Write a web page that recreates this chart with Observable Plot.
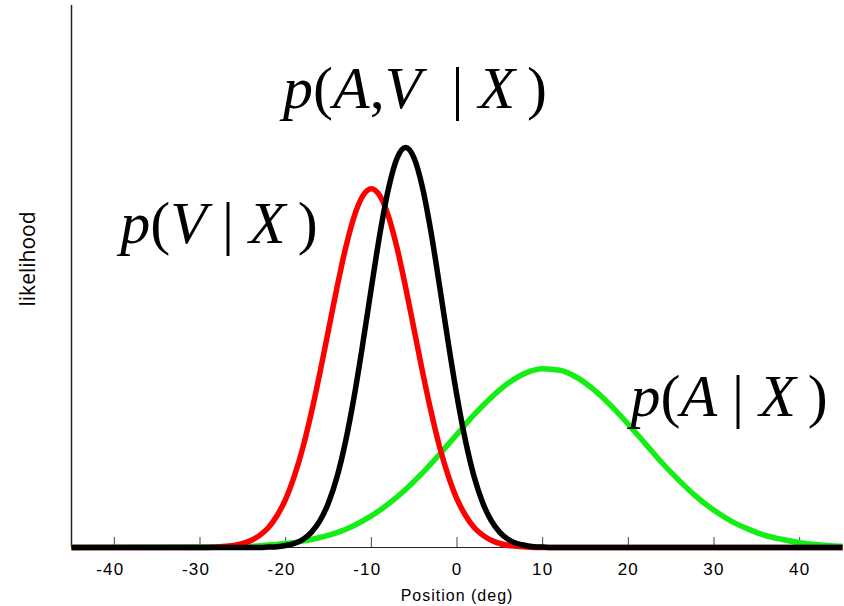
<!DOCTYPE html>
<html>
<head>
<meta charset="utf-8">
<script src="https://cdn.jsdelivr.net/npm/d3@7"></script>
<script src="https://cdn.jsdelivr.net/npm/@observablehq/plot@0.6"></script>
<style>
  html, body { margin: 0; padding: 0; background: #fff; }
  #chart svg { display: block; }
  svg [aria-label="x-axis tick label"], svg [aria-label="x-axis tick label"] text,
  svg [aria-label="x-axis"], svg [aria-label="x-axis"] text {
    font-size: 17px; font-family: 'Liberation Sans', Arial, sans-serif; letter-spacing: 1.2px;
  }
</style>
</head>
<body>
<div id="chart"></div>
<script>
// ---------- data ----------
const xTicks = [-40, -30, -20, -10, 0, 10, 20, 30, 40];
const xDomain = [-45, 45];
const yTop = 1.355;

// p(A | X)  (green)
const greenX = [-45, -26, -24, -22, -20, -18, -16, -14, -12, -10, -8, -6, -4, -2, 0, 2, 4, 6, 8, 10,
  12, 14, 16, 18, 20, 22, 24, 26, 28, 30, 32, 34, 36, 38, 40, 42, 44, 45];
const greenY = [0, 0.002, 0.003, 0.006, 0.010, 0.016, 0.025, 0.037, 0.055, 0.079, 0.109, 0.145, 0.187, 0.234, 0.283, 0.332, 0.375, 0.411, 0.436, 0.447,
  0.443, 0.425, 0.394, 0.354, 0.308, 0.259, 0.210, 0.166, 0.126, 0.093, 0.066, 0.046, 0.030, 0.020, 0.012, 0.007, 0.004, 0.003];

// p(V | X)  (red)
const redX = [-45, -30, -29, -28, -27, -26, -25, -24, -23, -22, -21, -20, -19, -18, -17, -16, -15, -14, -13, -12, -11,
  -10, -9, -8, -7, -6, -5, -4, -3, -2, -1, 0, 1, 2, 3, 4, 5, 6, 7, 8, 9, 10, 45];
const redY = [0, 0, 0, 0.001, 0.003, 0.005, 0.010, 0.018, 0.031, 0.050, 0.080, 0.121, 0.178, 0.249, 0.337, 0.437, 0.544, 0.651, 0.749, 0.828, 0.879,
  0.897, 0.879, 0.828, 0.749, 0.651, 0.544, 0.437, 0.337, 0.249, 0.178, 0.121, 0.080, 0.050, 0.031, 0.018, 0.010, 0.005, 0.003, 0.001, 0, 0, 0];

// p(A,V | X)  (black)
const blackX = [-45, -24, -23, -22, -21, -20, -19, -18, -17, -16, -15, -14, -13, -12, -11, -10, -9, -8, -7, -6,
  -5, -4, -3, -2, -1, 0, 1, 2, 3, 4, 5, 6, 7, 8, 9, 10, 11, 45];
const blackY = [0, 0, 0, 0.001, 0.002, 0.005, 0.010, 0.020, 0.038, 0.067, 0.112, 0.177, 0.266, 0.378, 0.509, 0.649, 0.784, 0.897, 0.973, 1.000,
  0.973, 0.897, 0.784, 0.649, 0.509, 0.378, 0.266, 0.177, 0.112, 0.067, 0.038, 0.020, 0.010, 0.005, 0.002, 0.001, 0, 0];

// curve labels (text and anchor in data units)
const labelText = ["p(A,V\u2002|\u2005X\u2009)", "p(V\u2005|\u2005X\u2009)", "p(A\u2005|\u2005X\u2009)"];
const labelX = [-20.3, -39.3, 20.25];
const labelY = [1.10, 0.7625, 0.33];

const yLabel = "likelihood";
const xLabel = "Position (deg)";

// ---------- build ----------
const toRows = (xs, ys) => xs.map((x, i) => ({x, y: ys[i]}));
const green = toRows(greenX, greenY);
const red = toRows(redX, redY);
const black = toRows(blackX, blackY);
const labels = labelText.map((t, i) => ({t, x: labelX[i], y: labelY[i]}));

const W = 844, H = 606, mT = 5, mB = 59, mL = 71, mR = 2;
const tickLen = 10;
const lineStyle = {x: "x", y: "y", strokeWidth: 5.5, curve: "monotone-x", strokeLinejoin: "round", strokeLinecap: "butt"};

const chart = Plot.plot({
  width: W, height: H,
  marginTop: mT, marginBottom: mB, marginLeft: mL, marginRight: mR,
  style: {fontFamily: "'Liberation Sans', Arial, sans-serif", fontSize: "17px", background: "#fff", color: "#000", overflow: "visible"},
  x: {domain: xDomain, ticks: xTicks, tickFormat: d => String(d), tickSize: 0, tickPadding: 15, label: null},
  y: {domain: [0, yTop], axis: null},
  marks: [
    Plot.ruleY([0], {stroke: "#222", strokeWidth: 1.2}),
    Plot.tickX(xTicks, {x: d => d, stroke: "#444", strokeWidth: 1, insetTop: H - mT - mB - tickLen}),
    Plot.ruleX([xDomain[0]], {stroke: "#222", strokeWidth: 1.5}),
    Plot.line(green, {...lineStyle, stroke: "#14ee14"}),
    Plot.line(red, {...lineStyle, stroke: "#ff0000"}),
    Plot.line(black, {...lineStyle, stroke: "#000000"}),
    Plot.text(labels, {x: "x", y: "y", text: "t", textAnchor: "start", lineAnchor: "bottom",
      fontFamily: "Liberation Serif", fontSize: 60, fill: "#000"}),
    Plot.text([yLabel], {text: d => d, frameAnchor: "left", rotate: -90, dx: -43, dy: 30,
      fontFamily: "Open Sans", fontSize: 21, fill: "#000"}),
    Plot.text([xLabel], {text: d => d, frameAnchor: "bottom", dy: 53, lineAnchor: "bottom",
      fontFamily: "Liberation Sans", fontSize: 16, fill: "#000"})
  ]
});

chart.querySelectorAll("text").forEach(t => {
  const s = t.textContent;
  if (s === xLabel) t.style.letterSpacing = "1px";
  // negative tick labels sit slightly left of their ticks in the reference
  const g = t.closest('[aria-label="x-axis tick label"], [aria-label="x-axis"]');
  if (g && /^-\d/.test(s)) t.setAttribute("dx", "-4");
  // italic letters in the math labels, upright punctuation
  if (!labelText.includes(s)) return;
  t.textContent = "";
  t.style.fontFamily = "'Liberation Serif', 'Times New Roman', serif";
  for (const ch of s) {
    const ts = document.createElementNS("http://www.w3.org/2000/svg", "tspan");
    ts.textContent = ch;
    if (/[A-Za-z]/.test(ch)) ts.style.fontStyle = "italic";
    t.appendChild(ts);
  }
});

document.getElementById("chart").appendChild(chart);
</script>
</body>
</html>
